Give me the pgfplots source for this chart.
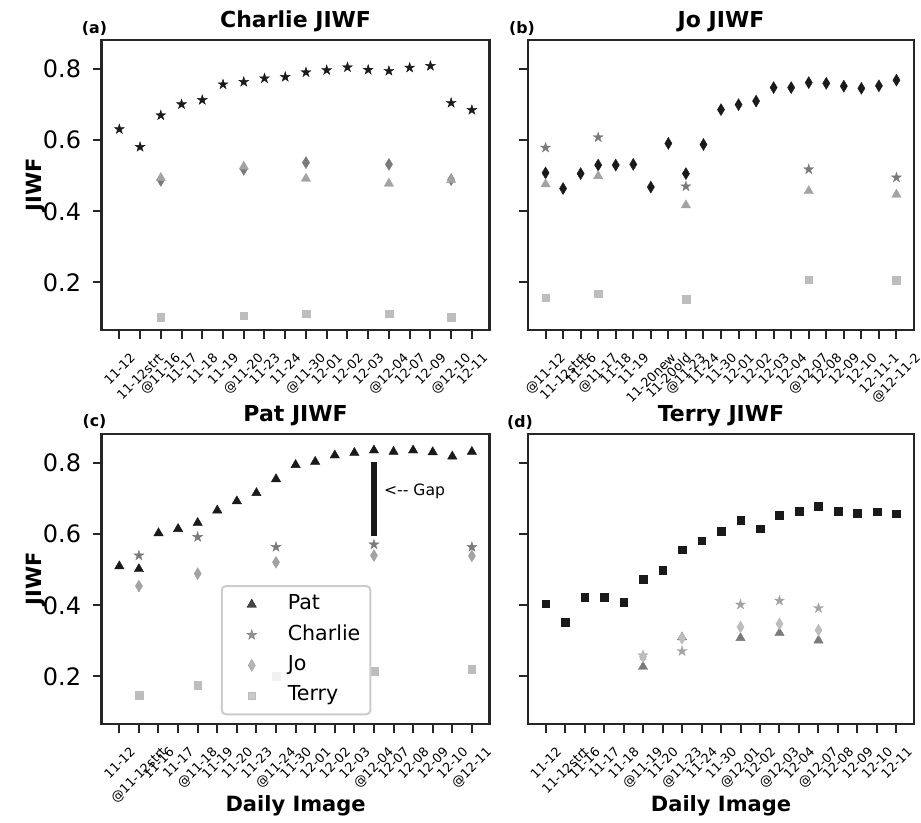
\documentclass[border=0pt]{standalone}
\usepackage{fontspec}
\setmainfont{DejaVu Sans}
\usepackage{graphicx}
\usepackage{pgfplots}
\pgfplotsset{compat=1.18}
\definecolor{k}{HTML}{1A1A1A}
\definecolor{g1}{HTML}{7A7A7A}
\definecolor{g2}{HTML}{A3A3A3}
\definecolor{g3}{HTML}{BDBDBD}
\newcommand{\R}[1]{\rotatebox{45}{#1}}
\pgfdeclareplotmark{fstar}{%
 \pgfpathmoveto{\pgfqpoint{0pt}{\pgfplotmarksize}}%
 \pgfpathlineto{\pgfqpoint{-0.2245\pgfplotmarksize}{0.3090\pgfplotmarksize}}%
 \pgfpathlineto{\pgfqpoint{-0.9511\pgfplotmarksize}{0.3090\pgfplotmarksize}}%
 \pgfpathlineto{\pgfqpoint{-0.3633\pgfplotmarksize}{-0.1180\pgfplotmarksize}}%
 \pgfpathlineto{\pgfqpoint{-0.5878\pgfplotmarksize}{-0.8090\pgfplotmarksize}}%
 \pgfpathlineto{\pgfqpoint{0pt}{-0.382\pgfplotmarksize}}%
 \pgfpathlineto{\pgfqpoint{0.5878\pgfplotmarksize}{-0.8090\pgfplotmarksize}}%
 \pgfpathlineto{\pgfqpoint{0.3633\pgfplotmarksize}{-0.1180\pgfplotmarksize}}%
 \pgfpathlineto{\pgfqpoint{0.9511\pgfplotmarksize}{0.3090\pgfplotmarksize}}%
 \pgfpathlineto{\pgfqpoint{0.2245\pgfplotmarksize}{0.3090\pgfplotmarksize}}%
 \pgfpathclose\pgfusepathqfillstroke}
\pgfplotsset{
 panel/.style={scale only axis, anchor=south west,
  ymin=0.066, ymax=0.882, ytick={0.2,0.4,0.6,0.8},
  tick pos=left, tick align=outside, major tick length=4.3pt,
  axis line style={line width=1.2pt, color=black!85},
  every tick/.style={line width=1pt, color=black!85},
  /pgf/number format/assume math mode=true,
  yticklabel style={font=\fontsize{12}{14}\selectfont, xshift=-2.5pt,
   /pgf/number format/fixed, /pgf/number format/precision=1,
   /pgf/number format/fixed zerofill},
  xticklabel style={font=\fontsize{6.4}{7}\selectfont, anchor=north, inner sep=0pt, yshift=-6.5pt},
  title style={font=\bfseries\fontsize{11}{13}\selectfont, at={(0.5,1)}, anchor=base, yshift=0pt},
  every axis y label/.style={at={(rel axis cs:0,0.5)}, rotate=90, anchor=center, yshift=32.8pt, font=\bfseries\fontsize{10.5}{12}\selectfont},
  every axis x label/.style={at={(rel axis cs:0.5,0)}, anchor=base, yshift=-44pt, font=\bfseries\fontsize{10.5}{12}\selectfont},
 },
 mstar/.style={only marks, mark=fstar, mark size=2.6pt, mark options={solid, line width=0.2pt}},
 mdia/.style={only marks, mark=diamond*, mark size=3pt, mark options={solid, xscale=0.8, line width=0.2pt}},
 mtri/.style={only marks, mark=triangle*, mark size=2.7pt, mark options={solid, line width=0.2pt}},
 msq/.style={only marks, mark=square*, mark size=1.9pt, mark options={solid, line width=0.2pt}},
}
\begin{document}
\begin{tikzpicture}[x=1pt,y=1pt]
\useasboundingbox (0,0) rectangle (460.5,411.5);
% (a) Charlie
\begin{axis}[panel, at={(50.85pt,246.5pt)}, width=193.9pt, height=145pt,
 xmin=-0.85, xmax=17.85, xtick={0,...,17},
 xticklabels={\R{11-12},\R{11-12strt},\R{@11-16},\R{11-17},\R{11-18},\R{11-19},\R{@11-20},\R{11-23},\R{11-24},\R{@11-30},\R{12-01},\R{12-02},\R{12-03},\R{@12-04},\R{12-07},\R{12-09},\R{@12-10},\R{12-11}},
 title={Charlie JIWF}, ylabel={JIWF}]
\addplot[mstar, color=k] coordinates {(0,0.631)(1,0.581)(2,0.670)(3,0.701)(4,0.713)(5,0.757)(6,0.764)(7,0.774)(8,0.778)(9,0.791)(10,0.797)(11,0.805)(12,0.798)(13,0.795)(14,0.804)(15,0.809)(16,0.705)(17,0.685)};
\addplot[mdia, color=g1] coordinates {(2,0.487)(6,0.518)(9,0.537)(13,0.532)(16,0.489)};
\addplot[mtri, color=g2] coordinates {(2,0.494)(6,0.526)(9,0.492)(13,0.478)(16,0.488)};
\addplot[msq, color=g3] coordinates {(2,0.102)(6,0.106)(9,0.112)(13,0.112)(16,0.102)};
\end{axis}
% (b) Jo
\begin{axis}[panel, at={(264pt,246.5pt)}, width=193pt, height=145pt,
 xmin=-1, xmax=21, xtick={0,...,20}, yticklabels={},
 xticklabels={\R{@11-12},\R{11-12strt},\R{11-16},\R{@11-17},\R{11-18},\R{11-19},\R{11-20new},\R{11-20old},\R{@11-23},\R{11-24},\R{11-30},\R{12-01},\R{12-02},\R{12-03},\R{12-04},\R{@12-07},\R{12-08},\R{12-09},\R{12-10},\R{12-11-1},\R{@12-11-2}},
 title={Jo JIWF}]
\addplot[mdia, color=k] coordinates {(0,0.508)(1,0.464)(2,0.506)(3,0.530)(4,0.530)(5,0.532)(6,0.468)(7,0.591)(8,0.506)(9,0.588)(10,0.686)(11,0.700)(12,0.710)(13,0.748)(14,0.748)(15,0.762)(16,0.760)(17,0.752)(18,0.746)(19,0.753)(20,0.769)};
\addplot[mstar, color=g1] coordinates {(0,0.579)(3,0.608)(8,0.470)(15,0.518)(20,0.495)};
\addplot[mtri, color=g2] coordinates {(0,0.476)(3,0.499)(8,0.417)(15,0.457)(20,0.447)};
\addplot[msq, color=g3] coordinates {(0,0.157)(3,0.168)(8,0.153)(15,0.208)(20,0.206)};
\end{axis}
% (c) Pat
\begin{axis}[panel, at={(50.85pt,49.5pt)}, width=193.9pt, height=145pt,
 xmin=-0.9, xmax=18.9, xtick={0,...,18},
 xticklabels={\R{11-12},\R{@11-12strt},\R{11-16},\R{11-17},\R{@11-18},\R{11-19},\R{11-20},\R{11-23},\R{@11-24},\R{11-30},\R{12-01},\R{12-02},\R{12-03},\R{@12-04},\R{12-07},\R{12-08},\R{12-09},\R{12-10},\R{@12-11}},
 title={Pat JIWF}, ylabel={JIWF}, xlabel={Daily Image},
 legend style={at={(0.307,0.479)}, anchor=north west, draw=black!20, line width=1pt, rounded corners=2pt,
  fill=white, fill opacity=0.8, text opacity=1, draw opacity=1,
  font=\fontsize{10.3}{12}\selectfont, inner xsep=3.5pt, inner ysep=2.7pt, row sep=2.1pt, column sep=7pt,
  nodes={inner sep=1.5pt, text height=0.76em, text depth=0.25em}},
 legend cell align=left,
 legend image code/.code={\path (0pt,0pt) (20pt,0pt); \draw[#1] plot coordinates {(11pt,0pt)};}]
\addplot[mtri, color=k] coordinates {(0,0.510)(1,0.502)(2,0.603)(3,0.615)(4,0.632)(5,0.667)(6,0.693)(7,0.716)(8,0.755)(9,0.795)(10,0.804)(11,0.822)(12,0.829)(13,0.836)(14,0.832)(15,0.836)(16,0.831)(17,0.819)(18,0.832)};
\addlegendentry{Pat}
\addplot[mstar, color=g1] coordinates {(1,0.540)(4,0.592)(8,0.564)(13,0.571)(18,0.564)};
\addlegendentry{Charlie}
\addplot[mdia, color=g2] coordinates {(1,0.454)(4,0.489)(8,0.521)(13,0.540)(18,0.539)};
\addlegendentry{Jo}
\addplot[msq, color=g3] coordinates {(1,0.147)(4,0.175)(8,0.200)(13,0.214)(18,0.221)};
\addlegendentry{Terry}
\addplot[forget plot, no marks, line width=2.6pt, color=k] coordinates {(13,0.594)(13,0.804)};
\node[anchor=west, inner sep=0pt, font=\fontsize{7.8}{9}\selectfont] at (axis cs:13.5,0.722) {<-{}- Gap};
\end{axis}
% (d) Terry
\begin{axis}[panel, at={(264pt,49.5pt)}, width=193pt, height=145pt,
 xmin=-0.9, xmax=18.9, xtick={0,...,18}, yticklabels={},
 xticklabels={\R{11-12},\R{11-12strt},\R{11-16},\R{11-17},\R{11-18},\R{@11-19},\R{11-20},\R{@11-23},\R{11-24},\R{11-30},\R{@12-01},\R{12-02},\R{@12-03},\R{12-04},\R{@12-07},\R{12-08},\R{12-09},\R{12-10},\R{12-11}},
 title={Terry JIWF}, xlabel={Daily Image}]
\addplot[msq, color=k] coordinates {(0,0.405)(1,0.352)(2,0.423)(3,0.423)(4,0.409)(5,0.474)(6,0.498)(7,0.556)(8,0.582)(9,0.609)(10,0.640)(11,0.616)(12,0.653)(13,0.664)(14,0.678)(15,0.665)(16,0.659)(17,0.663)(18,0.658)};
\addplot[mtri, color=g1] coordinates {(5,0.227)(7,0.310)(10,0.308)(12,0.322)(14,0.301)};
\addplot[mstar, color=g2] coordinates {(5,0.259)(7,0.271)(10,0.402)(12,0.413)(14,0.392)};
\addplot[mdia, color=g3] coordinates {(5,0.255)(7,0.307)(10,0.339)(12,0.348)(14,0.330)};
\end{axis}
\node[font=\bfseries\fontsize{7.9}{9}\selectfont] at (47.25,397) {(a)};
\node[font=\bfseries\fontsize{7.9}{9}\selectfont] at (261,397) {(b)};
\node[font=\bfseries\fontsize{7.9}{9}\selectfont] at (47.25,200.5) {(c)};
\node[font=\bfseries\fontsize{7.9}{9}\selectfont] at (260,200.3) {(d)};
\end{tikzpicture}
\end{document}
